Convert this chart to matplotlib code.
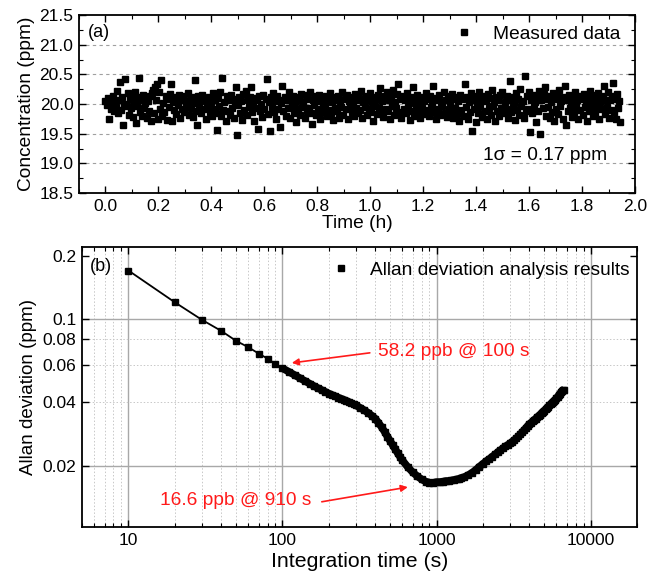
import numpy as np
import matplotlib
matplotlib.use("Agg")
from matplotlib import pyplot as plt
from matplotlib.lines import Line2D
from matplotlib.ticker import FixedLocator, MultipleLocator, NullFormatter

plt.rcParams["font.family"] = ["Liberation Sans", "DejaVu Sans"]
plt.rcParams["xtick.direction"] = "in"
plt.rcParams["ytick.direction"] = "in"

# (a) measured concentration (ppm), one sample every ~14 s over 1.945 h
t_end = 1.945
conc = [
    20.05, 19.98, 20.10, 19.75, 20.02, 19.92, 20.08, 20.14, 19.88, 20.04, 19.95, 20.22, 19.85, 20.06, 20.37, 19.90, 20.12, 19.65, 20.00, 20.42,
    19.96, 20.18, 19.82, 20.09, 19.93, 20.15, 19.78, 20.03, 20.20, 19.68, 19.97, 20.11, 20.43, 19.86, 20.07, 19.80, 20.16, 19.94, 20.01, 19.76,
    20.05, 19.89, 20.13, 19.72, 20.19, 20.24, 19.84, 20.28, 20.06, 20.33, 19.74, 20.21, 19.91, 20.40, 19.79, 20.02, 19.87, 20.14, 19.73, 20.08,
    19.95, 20.17, 20.33, 19.72, 20.04, 19.90, 20.12, 19.83, 20.09, 19.98, 20.15, 19.77, 20.06, 19.92, 20.13, 19.86, 20.03, 19.96, 20.19, 19.81,
    20.07, 19.93, 20.11, 19.78, 20.02, 20.40, 19.88, 19.64, 20.14, 19.97, 20.05, 19.84, 20.16, 19.91, 20.08, 19.75, 20.01, 19.94, 20.12, 19.86,
    20.04, 19.80, 20.18, 19.92, 20.07, 19.85, 19.57, 20.10, 19.96, 20.21, 19.79, 20.44, 19.90, 20.03, 19.71, 20.13, 19.88, 20.06, 19.82, 20.15,
    19.94, 20.09, 19.76, 20.02, 20.28, 19.47, 19.99, 20.11, 19.84, 20.05, 19.73, 20.17, 19.90, 20.22, 19.81, 20.07, 19.95, 20.12, 20.28, 19.87,
    20.03, 19.72, 20.10, 19.93, 20.06, 19.58, 20.14, 19.89, 20.00, 19.78, 20.16, 19.91, 20.08, 20.42, 19.83, 20.04, 19.55, 20.12, 19.95, 20.19,
    19.86, 20.05, 19.74, 20.13, 19.92, 20.07, 19.62, 20.02, 20.30, 19.88, 20.11, 19.80, 20.06, 19.94, 20.21, 19.77, 20.09, 19.97, 20.14, 19.85,
    20.04, 19.70, 20.12, 19.91, 20.07, 19.82, 20.17, 19.95, 20.03, 19.76, 20.15, 19.89, 20.08, 19.93, 20.20, 19.84, 19.67, 20.06, 19.98, 20.13,
    19.81, 20.05, 19.92, 20.16, 19.75, 20.09, 19.87, 20.02, 19.96, 20.14, 19.79, 20.07, 19.90, 20.18, 19.85, 20.04, 19.73, 20.11, 19.94, 20.06,
    19.88, 20.13, 19.77, 20.03, 19.95, 20.20, 19.82, 20.08, 19.91, 20.15, 19.74, 20.05, 19.97, 20.12, 19.86, 20.01, 19.79, 20.17, 19.93, 20.07,
    19.84, 20.10, 19.90, 20.22, 19.76, 20.04, 19.95, 20.14, 19.81, 20.06, 19.92, 20.19, 19.87, 20.03, 19.72, 20.11, 19.96, 20.08, 19.83, 20.16,
    19.94, 20.27, 19.85, 20.05, 19.78, 20.13, 19.91, 20.21, 19.88, 20.07, 19.75, 20.12, 19.97, 20.24, 19.82, 20.04, 19.93, 20.17, 20.33, 19.86,
    20.09, 19.77, 20.14, 19.92, 20.06, 19.84, 20.19, 19.95, 20.02, 19.73, 20.11, 19.89, 20.28, 19.80, 20.07, 19.96, 20.15, 19.87, 20.03, 19.76,
    20.12, 19.93, 20.05, 19.83, 20.18, 19.90, 20.08, 19.79, 20.14, 19.95, 20.02, 20.31, 19.86, 20.10, 19.74, 20.06, 19.92, 20.16, 19.81, 20.04,
    19.97, 20.20, 19.85, 20.07, 19.78, 20.13, 19.91, 20.03, 19.88, 20.17, 19.76, 20.09, 19.94, 20.12, 19.83, 20.05, 19.72, 20.15, 19.90, 20.08,
    19.80, 20.33, 19.95, 20.11, 19.74, 20.04, 19.87, 20.19, 19.55, 20.06, 19.92, 20.14, 19.69, 20.02, 19.85, 20.21, 19.96, 20.08, 19.78, 20.13,
    19.89, 20.05, 19.75, 20.17, 19.93, 20.10, 19.82, 20.24, 19.97, 20.03, 19.71, 20.12, 19.88, 20.07, 19.79, 20.16, 19.94, 20.21, 19.84, 20.04,
    19.91, 20.14, 19.77, 20.06, 20.38, 19.86, 20.11, 19.95, 20.02, 19.73, 20.18, 19.90, 20.09, 19.81, 20.25, 19.97, 20.05, 19.76, 20.48, 19.88,
    20.13, 19.92, 20.20, 19.52, 20.07, 19.84, 20.15, 19.96, 20.03, 19.69, 20.12, 19.89, 20.22, 19.50, 20.06, 19.93, 20.17, 20.28, 19.80, 20.09,
    19.95, 20.14, 19.77, 20.04, 19.87, 20.19, 19.72, 20.08, 19.91, 20.13, 19.83, 20.23, 19.96, 20.05, 19.74, 20.11, 20.30, 19.65, 20.07, 19.89,
    20.16, 19.94, 20.02, 19.78, 20.12, 19.86, 20.20, 19.97, 20.06, 19.75, 20.14, 19.90, 20.08, 19.82, 20.17, 19.95, 20.03, 19.71, 20.10, 19.88,
    20.22, 19.93, 20.05, 19.79, 20.15, 19.85, 20.09, 19.97, 20.18, 19.74, 20.04, 19.91, 20.13, 20.30, 19.83, 20.07, 19.95, 20.21, 19.77, 20.06,
    19.90, 20.14, 20.35, 19.86, 20.08, 19.74, 20.17, 19.93, 20.05, 19.70,
]
time_h = np.linspace(0, t_end, len(conc))

# (b) Allan deviation (ppm) vs integration time (s)
tau = [
    10, 20, 30, 40, 50, 60, 70, 80, 90, 100,
    110, 120, 130, 140, 150, 160, 170, 180, 190, 200,
    210, 220, 230, 240, 250, 260, 270, 280, 290, 300,
    320, 340, 360, 380, 400, 420, 440, 460, 480, 500,
    520, 540, 560, 580, 600,
    650, 700, 750, 800, 850, 900, 950, 1000, 1050, 1100,
    1150, 1200, 1250, 1300, 1350, 1400, 1450, 1500,
    1600, 1700, 1800, 1900, 2000, 2100, 2200, 2300, 2400, 2500,
    2600, 2700, 2800, 2900, 3000, 3100, 3200, 3300, 3400, 3500,
    3600, 3700, 3800, 3900, 4000, 4100, 4200, 4300, 4400, 4500,
    4600, 4700, 4800, 4900, 5000, 5100, 5200, 5300, 5400, 5500,
    5600, 5700, 5800, 5900, 6000, 6100, 6200, 6300, 6400, 6500,
    6600, 6700,
]
adev = [
    0.170, 0.120, 0.099, 0.0877, 0.0786, 0.0733, 0.0684, 0.0647, 0.0609, 0.0582,
    0.0560, 0.0540, 0.0522, 0.0506, 0.0492, 0.0479, 0.0468, 0.0458, 0.0449, 0.0441,
    0.0434, 0.0428, 0.0422, 0.0417, 0.0412, 0.0407, 0.0402, 0.0397, 0.0392, 0.0387,
    0.0377, 0.0367, 0.0357, 0.0346, 0.0335, 0.0320, 0.0305, 0.0290, 0.0275, 0.0262,
    0.0250, 0.0239, 0.0229, 0.0220, 0.0212,
    0.0197, 0.0186, 0.0178, 0.0172, 0.0168, 0.0166, 0.0166, 0.0167, 0.0167, 0.0168,
    0.0169, 0.0169, 0.0170, 0.0171, 0.0172, 0.0173, 0.0175, 0.0176,
    0.0180, 0.0185, 0.0191, 0.0198, 0.0204, 0.0210, 0.0215, 0.0221, 0.0226, 0.0232,
    0.0237, 0.0242, 0.0247, 0.0251, 0.0255, 0.0260, 0.0265, 0.0270, 0.0276, 0.0282,
    0.0289, 0.0295, 0.0302, 0.0309, 0.0315, 0.0320, 0.0325, 0.0330, 0.0335, 0.0340,
    0.0345, 0.0350, 0.0356, 0.0361, 0.0366, 0.0371, 0.0376, 0.0381, 0.0387, 0.0392,
    0.0398, 0.0403, 0.0408, 0.0413, 0.0419, 0.0425, 0.0432, 0.0439, 0.0446, 0.0452,
    0.0458, 0.0460,
]
y_ticks_b = [0.02, 0.04, 0.06, 0.08, 0.1, 0.2]
y_labels_b = ["0.02", "0.04", "0.06", "0.08", "0.1", "0.2"]

W, H = 647, 579
fig = plt.figure(figsize=(W / 100, H / 100), dpi=100)
ax1 = fig.add_axes([79 / W, 1 - 193 / H, 556 / W, 178 / H])
ax2 = fig.add_axes([82 / W, 1 - 527 / H, 555 / W, 280 / H])

tick_fs = 12.5
txt_fs = 13.8

# ---- panel (a)
ax1.plot(time_h, conc, "s", color="black", markersize=4.9, mec="black",
         label="Measured data", zorder=3)
ax1.set_xlim(-0.1, 2.0)
ax1.set_ylim(18.5, 21.5)
ax1.xaxis.set_major_locator(MultipleLocator(0.2))
ax1.xaxis.set_minor_locator(MultipleLocator(0.1))
ax1.yaxis.set_major_locator(MultipleLocator(0.5))
ax1.yaxis.set_minor_locator(MultipleLocator(0.25))
ax1.xaxis.set_major_formatter(matplotlib.ticker.FormatStrFormatter("%.1f"))
ax1.yaxis.set_major_formatter(matplotlib.ticker.FormatStrFormatter("%.1f"))
for yv in [19.0, 19.5, 20.0, 20.5, 21.0]:
    ax1.axhline(yv, color="#a0a0a0", lw=0.8, ls=(0, (3, 3)), zorder=1)
ax1.set_xlabel("Time (h)", fontsize=13.8, labelpad=1)
ax1.set_ylabel("Concentration (ppm)", fontsize=13.8, labelpad=3)
ax1.text(0.016, 0.904, "(a)", transform=ax1.transAxes, fontsize=13, va="center")
ax1.text(1.895, 19.14, "1\u03c3 = 0.17 ppm", fontsize=txt_fs, ha="right", va="center")
ax1.legend(loc="upper right", bbox_to_anchor=(0.980, 0.961), frameon=False,
           fontsize=txt_fs, handlelength=1.0, handletextpad=1.0,
           borderaxespad=0.0, borderpad=0.2)

# ---- panel (b)
tau_dense = [t for t in tau if t >= 100]
adev_dense = [a for t, a in zip(tau, adev) if t >= 100]
ax2.plot(tau_dense, adev_dense, "-", color="black", lw=5.4, zorder=2,
         solid_capstyle="butt")
ax2.plot(tau, adev, "-s", color="black", lw=1.3, markersize=4.2, zorder=3)
ax2.set_xscale("log")
ax2.set_yscale("log")
ax2.set_xlim(5, 20000)
ax2.set_ylim(0.0102, 0.22)
ax2.yaxis.set_major_locator(FixedLocator(y_ticks_b))
ax2.yaxis.set_major_formatter(matplotlib.ticker.FixedFormatter(y_labels_b))
ax2.yaxis.set_minor_locator(FixedLocator([]))
ax2.yaxis.set_minor_formatter(NullFormatter())
ax2.set_xticks([10, 100, 1000, 10000])
ax2.set_xticklabels(["10", "100", "1000", "10000"])
ax2.xaxis.set_minor_formatter(NullFormatter())
for xv in [10, 100, 1000, 10000]:
    ax2.axvline(xv, color="#a8a8a8", lw=1.0, zorder=1)
for dec in [1, 10, 100, 1000]:
    for m in range(2, 10):
        if 5 < dec * m < 20000:
            ax2.axvline(dec * m, color="#c8c8c8", lw=0.7, ls=(0, (1.5, 2)), zorder=1)
for yv in [0.02, 0.1]:
    ax2.axhline(yv, color="#a8a8a8", lw=1.0, zorder=1)
for yv in [0.04, 0.06, 0.08]:
    ax2.axhline(yv, color="#c8c8c8", lw=0.7, ls=(0, (1.5, 2)), zorder=1)
ax2.set_xlabel("Integration time (s)", fontsize=15.3, labelpad=3)
ax2.set_ylabel("Allan deviation (ppm)", fontsize=13.5, labelpad=4)
ax2.text(0.0144, 0.929, "(b)", transform=ax2.transAxes, fontsize=13, va="center")
leg_handle = Line2D([], [], ls="none", marker="s", color="black", markersize=4.9)
ax2.legend([leg_handle], ["Allan deviation analysis results"], loc="upper right",
           bbox_to_anchor=(0.994, 0.961), frameon=False, fontsize=txt_fs,
           handlelength=1.0, handletextpad=1.0, borderaxespad=0.0, borderpad=0.2)

red = "#ff1a1a"
ax2.annotate("", xy=(115, 0.0617), xytext=(369, 0.0689),
             arrowprops=dict(arrowstyle="-|>", color=red, lw=1.2, mutation_scale=10,
                             shrinkA=0, shrinkB=0))
ax2.text(416, 0.0696, "58.2 ppb @ 100 s", color=red, fontsize=txt_fs, va="center", ha="left")
ax2.annotate("", xy=(651, 0.0158), xytext=(180, 0.01345),
             arrowprops=dict(arrowstyle="-|>", color=red, lw=1.2, mutation_scale=10,
                             shrinkA=0, shrinkB=0))
ax2.text(153, 0.0136, "16.6 ppb @ 910 s", color=red, fontsize=txt_fs, va="center", ha="right")

for ax in (ax1, ax2):
    ax.tick_params(which="both", top=True, right=True, labelsize=tick_fs, pad=4)
    ax.tick_params(which="major", length=5, width=1.0)
    ax.tick_params(which="minor", length=3, width=0.8)
    for s in ax.spines.values():
        s.set_linewidth(1.3)

fig.savefig("out.png", dpi=100)
